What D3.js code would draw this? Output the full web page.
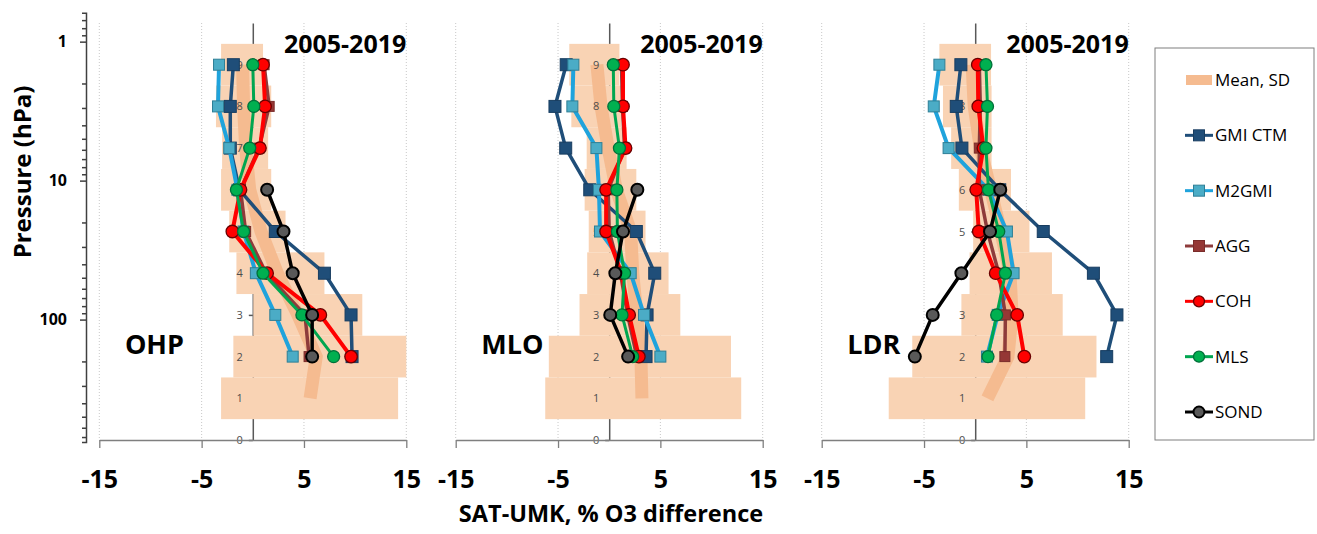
<!DOCTYPE html>
<html>
<head>
<meta charset="utf-8">
<script src="https://cdn.jsdelivr.net/npm/d3@7"></script>
<style>
  body { margin: 0; background: #fff; }
  text { font-family: "Open Sans", sans-serif; }
</style>
</head>
<body>
<svg id="chart" width="1317" height="534"></svg>
<script>
// levels of the Umkehr layers
const levels = [2, 3, 4, 5, 6, 7, 8, 9];
const sondLevels = [2, 3, 4, 5, 6];
const sdLevels = [1, 2, 3, 4, 5, 6, 7, 8, 9];
const sites = ["OHP", "MLO", "LDR"];
const periodLabel = "2005-2019";
const xTicks = [-15, -5, 5, 15];
const pressureMajor = [1, 10, 100];
const pressureMinor = [0.7, 0.8, 0.9, 2, 3, 4, 5, 6, 7, 8, 9, 20, 30, 40, 50, 60, 70, 80, 90, 200, 300, 400, 500, 600, 700];

// OHP
const ohpGmi = [9.7, 9.6, 7.0, 2.2, -1.3, -2.2, -2.2, -1.9];
const ohpM2gmi = [3.9, 2.2, 0.3, -0.9, -1.5, -2.3, -3.4, -3.3];
const ohpAgg = [5.5, 5.1, 1.3, -0.7, -1.2, 0.6, 1.6, 1.1];
const ohpCoh = [9.6, 6.6, 1.4, -2.0, -1.2, 0.7, 1.2, 1.0];
const ohpMls = [7.9, 4.8, 1.0, -0.9, -1.6, -0.3, 0.1, 0.0];
const ohpSond = [5.8, 5.8, 3.9, 3.0, 1.4];
const ohpSdLo = [-3.1, -1.9, 0.05, -1.6, -2.3, -3.1, -3.0, -3.6, -3.1];
const ohpSdHi = [14.2, 15.0, 10.7, 7.0, 3.2, 1.8, 1.5, 1.8, 1.0];
const ohpMean = [5.6, 6.2, 4.4, 2.4, 0.8, -0.3, -0.7, -0.9, -1.0];

// MLO
const mloGmi = [3.6, 3.7, 4.45, 2.65, -1.9, -4.25, -5.3, -4.2];
const mloM2gmi = [5.0, 3.4, 2.1, -0.9, -1.0, -1.25, -3.6, -3.5];
const mloAgg = [2.7, 1.8, 1.1, 0.0, -0.1, 1.5, 1.3, 1.2];
const mloCoh = [2.9, 1.95, 1.2, -0.3, -0.3, 1.6, 1.35, 1.35];
const mloMls = [2.3, 1.25, 1.5, 0.8, 0.75, 1.0, 0.45, 0.4];
const mloSond = [1.85, 0.1, 0.6, 1.35, 2.75];
const mloSdLo = [-6.25, -5.9, -2.9, -2.15, -2.0, -2.4, -2.2, -3.7, -3.9];
const mloSdHi = [12.9, 11.9, 6.95, 5.8, 3.55, 2.65, 1.7, 1.2, 1.0];
const mloMean = [3.2, 3.1, 2.7, 2.3, 2.1, 0.7, -0.1, -0.8, -1.2];

// LDR
const ldrGmi = [12.85, 13.85, 11.55, 6.65, 2.4, -1.3, -1.85, -1.4];
const ldrM2gmi = [1.15, 2.2, 3.75, 3.1, 1.3, -2.6, -4.05, -3.5];
const ldrAgg = [2.9, 2.95, 2.3, 1.2, 0.4, 0.4, 0.5, 0.4];
const ldrCoh = [4.8, 4.1, 2.0, 0.35, 0.1, 0.8, 0.3, 0.25];
const ldrMls = [1.25, 2.1, 2.95, 2.3, 1.3, 1.05, 1.2, 1.05];
const ldrSond = [-5.9, -4.15, -1.35, 1.45, 2.45];
const ldrSdLo = [-8.45, -6.15, -1.35, -0.55, -0.2, -1.6, -2.35, -3.15, -3.5];
const ldrSdHi = [10.75, 11.85, 8.55, 7.5, 5.3, 3.5, 1.6, 1.6, 1.55];
const ldrMean = [1.2, 3.2, 3.6, 3.4, 2.5, 1.5, 0.5, -0.1, -0.3];

const siteData = [
  { gmi: ohpGmi, m2gmi: ohpM2gmi, agg: ohpAgg, coh: ohpCoh, mls: ohpMls, sond: ohpSond, lo: ohpSdLo, hi: ohpSdHi, mean: ohpMean },
  { gmi: mloGmi, m2gmi: mloM2gmi, agg: mloAgg, coh: mloCoh, mls: mloMls, sond: mloSond, lo: mloSdLo, hi: mloSdHi, mean: mloMean },
  { gmi: ldrGmi, m2gmi: ldrM2gmi, agg: ldrAgg, coh: ldrCoh, mls: ldrMls, sond: ldrSond, lo: ldrSdLo, hi: ldrSdHi, mean: ldrMean },
];

const seriesStyle = [
  { name: "GMI CTM", key: "gmi", line: "#1f4e79", width: 3.5, shape: "square", size: 12, fill: "#1f4e79", stroke: "#183d60" },
  { name: "M2GMI", key: "m2gmi", line: "#1fa3dc", width: 4, shape: "square", size: 11, fill: "#4bacc6", stroke: "#2e7f96" },
  { name: "AGG", key: "agg", line: "#8e3b3b", width: 3.5, shape: "square", size: 10, fill: "#953735", stroke: "#7a2c2a" },
  { name: "COH", key: "coh", line: "#ff0000", width: 4, shape: "circle", size: 12.5, fill: "#ff0000", stroke: "#6b0000" },
  { name: "MLS", key: "mls", line: "#00a650", width: 3, shape: "circle", size: 12, fill: "#00b050", stroke: "#00703a" },
  { name: "SOND", key: "sond", line: "#000000", width: 3.5, shape: "circle", size: 12, fill: "#595959", stroke: "#000" },
];

const barColor = "#f9d3b4";
const meanColor = "#f5bb90";

const svg = d3.select("#chart");
const panelLeft = [99.3, 455.7, 821.7];
const panelWidth = 307;

const y = d3.scaleLinear().domain([0, 10]).range([440, 23]);
const yP = d3.scaleLog().domain([0.62, 760]).range([12.8, 442]);

function drawMarker(g, style, cx, cy) {
  if (style.shape === "square") {
    g.append("rect")
      .attr("x", cx - style.size / 2)
      .attr("y", cy - style.size / 2)
      .attr("width", style.size)
      .attr("height", style.size)
      .attr("fill", style.fill)
      .attr("stroke", style.stroke)
      .attr("stroke-width", 1);
  } else {
    g.append("circle")
      .attr("cx", cx)
      .attr("cy", cy)
      .attr("r", style.size / 2)
      .attr("fill", style.fill)
      .attr("stroke", style.stroke)
      .attr("stroke-width", style.key === "sond" ? 2 : 1.3);
  }
}

sites.forEach((site, i) => {
  let d = siteData[i];
  let x = d3.scaleLinear().domain([-15, 15]).range([panelLeft[i], panelLeft[i] + panelWidth]);
  let g = svg.append("g");

  // dotted gridlines
  g.append("g")
    .selectAll("line")
    .data(xTicks)
    .join("line")
    .attr("x1", (v) => x(v))
    .attr("x2", (v) => x(v))
    .attr("y1", y(10))
    .attr("y2", y(0))
    .attr("stroke", "#c8c8c8")
    .attr("stroke-width", 1)
    .attr("stroke-dasharray", "1,2");

  // level axis line at x = 0 (under the bars)
  let levelAxis = d3.axisLeft(y).tickValues(d3.range(0, 10)).tickSize(4).tickSizeOuter(0).tickFormat("");
  g.append("g")
    .attr("transform", `translate(${x(0)},0)`)
    .call(levelAxis)
    .call((a) => a.selectAll("path,line").attr("stroke", "#595959").attr("stroke-width", 1.5));

  // SD bars
  g.append("g")
    .selectAll("rect")
    .data(sdLevels)
    .join("rect")
    .attr("x", (l, j) => x(d.lo[j]))
    .attr("width", (l, j) => x(d.hi[j]) - x(d.lo[j]))
    .attr("y", (l) => y(l + 0.5))
    .attr("height", (l) => y(l - 0.5) - y(l + 0.5))
    .attr("fill", barColor);

  // mean line
  g.append("path")
    .datum(sdLevels)
    .attr("d", d3.line().x((l, j) => x(d.mean[j])).y((l) => y(l)))
    .attr("fill", "none")
    .attr("stroke", meanColor)
    .attr("stroke-width", 13);

  // level labels on top of the bars
  g.append("g")
    .attr("transform", `translate(${x(0)},0)`)
    .call(d3.axisLeft(y).tickValues(d3.range(0, 10)).tickSize(0).tickPadding(10))
    .call((a) => a.select(".domain").remove())
    .call((a) => a.selectAll("text").attr("fill", "#4d4d4d").attr("font-size", 11).attr("font-family", "Open Sans"));

  // series
  seriesStyle.forEach((s) => {
    let vals = d[s.key];
    let lv = s.key === "sond" ? sondLevels : levels;
    let sg = g.append("g");
    sg.append("path")
      .datum(lv)
      .attr("d", d3.line().x((l, j) => x(vals[j])).y((l) => y(l)))
      .attr("fill", "none")
      .attr("stroke", s.line)
      .attr("stroke-width", s.width)
      .attr("stroke-linejoin", "round");
    lv.forEach((l, j) => drawMarker(sg, s, x(vals[j]), y(l)));
  });

  // x axis
  g.append("g")
    .attr("transform", `translate(0,${y(0)})`)
    .call(d3.axisBottom(x).tickValues(xTicks).tickSize(8).tickSizeOuter(0).tickPadding(22).tickFormat((v) => String(v)))
    .call((a) => a.selectAll("path,line").attr("stroke", "#7f7f7f").attr("stroke-width", 1.3))
    .call((a) => a.selectAll("text").attr("font-size", 25).attr("font-weight", "bold").attr("fill", "#000").attr("font-family", "Open Sans"));

  g.append("text")
    .attr("x", x(15))
    .attr("y", 53)
    .attr("text-anchor", "end")
    .attr("font-size", 25)
    .attr("font-weight", "bold")
    .text(periodLabel);

  g.append("text")
    .attr("x", x(-12.5))
    .attr("y", 354)
    .attr("font-size", 27)
    .attr("font-weight", "bold")
    .text(site);
});

// pressure axis
let pAxisX = 86;
svg.append("g")
  .attr("transform", `translate(${pAxisX},0)`)
  .call(d3.axisLeft(yP).tickValues(pressureMinor).tickSize(4).tickSizeOuter(4).tickFormat(""))
  .call((a) => a.selectAll("path,line").attr("stroke", "#404040").attr("stroke-width", 1.5));
svg.append("g")
  .attr("transform", `translate(${pAxisX},0)`)
  .call(d3.axisLeft(yP).tickValues(pressureMajor).tickSize(6).tickPadding(13).tickFormat(d3.format("d")))
  .call((a) => a.select(".domain").remove())
  .call((a) => a.selectAll("line").attr("stroke", "#404040").attr("stroke-width", 1.5))
  .call((a) => a.selectAll("text").attr("font-size", 16).attr("font-weight", "bold").attr("fill", "#000").attr("font-family", "Open Sans"));

svg.append("text")
  .attr("transform", "translate(31,172) rotate(-90)")
  .attr("text-anchor", "middle")
  .attr("font-size", 24)
  .attr("font-weight", "bold")
  .text("Pressure (hPa)");

svg.append("text")
  .attr("x", 611)
  .attr("y", 522)
  .attr("text-anchor", "middle")
  .attr("font-size", 23.5)
  .attr("font-weight", "bold")
  .text("SAT-UMK, % O3 difference");

// legend
let legend = svg.append("g");
legend.append("rect")
  .attr("x", 1155)
  .attr("y", 48)
  .attr("width", 159)
  .attr("height", 392)
  .attr("fill", "#fff")
  .attr("stroke", "#7f7f7f")
  .attr("stroke-width", 1);

let legendNames = ["Mean, SD"].concat(seriesStyle.map((s) => s.name));
let legendY = d3.scalePoint().domain(legendNames).range([80, 412]);

legend.append("line")
  .attr("x1", 1186)
  .attr("x2", 1212)
  .attr("y1", legendY("Mean, SD"))
  .attr("y2", legendY("Mean, SD"))
  .attr("stroke", meanColor)
  .attr("stroke-width", 10);

seriesStyle.forEach((s) => {
  let ly = legendY(s.name);
  let lg = legend.append("g");
  lg.append("line")
    .attr("x1", 1185)
    .attr("x2", 1213)
    .attr("y1", ly)
    .attr("y2", ly)
    .attr("stroke", s.line)
    .attr("stroke-width", 3);
  drawMarker(lg, Object.assign({}, s, { size: 11 }), 1199, ly);
});

legend.selectAll("text.lab")
  .data(legendNames)
  .join("text")
  .attr("class", "lab")
  .attr("x", 1215)
  .attr("y", (n) => legendY(n))
  .attr("dy", "0.35em")
  .attr("font-size", 17)
  .text((n) => n);
</script>
</body>
</html>
